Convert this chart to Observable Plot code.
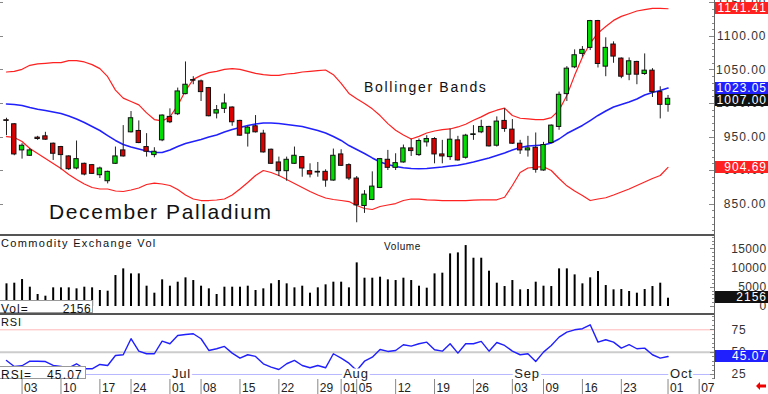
<!DOCTYPE html>
<html><head><meta charset="utf-8">
<script src="https://cdn.jsdelivr.net/npm/d3@7"></script>
<script src="https://cdn.jsdelivr.net/npm/@observablehq/plot@0.6"></script>
<style>
html,body{margin:0;padding:0;background:#fff;}
#wrap{position:relative;width:768px;height:394px;overflow:hidden;background:#fff;font-family:"Liberation Sans",Arial,sans-serif;color:#111;}
#wrap svg{position:absolute;left:0;overflow:visible;}
.lbl{position:absolute;white-space:nowrap;line-height:1;}
.vbox{position:absolute;left:715px;width:53px;color:#fff;font-size:12px;letter-spacing:1px;text-align:right;line-height:12px;height:12px;box-sizing:border-box;padding-right:1px;}
.ibox{position:absolute;left:0;background:#fff;border:1px solid #999;border-left:none;box-sizing:border-box;font-size:12px;line-height:1;}
.ibox span{position:absolute;top:2px;}
.sep{position:absolute;left:0;width:715px;height:2px;background:#555;}
</style></head>
<body><div id="wrap"></div>
<script>
// ---- data (trading days, index 0 = May 30) ----
const opens  = [975,969,930,922,949,951,940,935,921,903,910,908,893,884,910,930,957,959,935,923,945,980,984,1014,1035,1033,1023,985,992,994,974,955,966,955,931,912,899,910,920,899,897,898,885,924,908,888,847,856,874,916,904,912,933,923,942,947,924,920,945,919,953,957,965,937,974,961,940,930,934,900,941,965,1014,1054,1074,1083,1123,1055,1088,1067,1043,1062,1044,1049,1017,998];
const highs  = [978,970,940,933,951,957,941,936,922,944,911,909,905,899,935,967,988,974,955,934,983,992,1023,1062,1040,1035,1024,997,1014,995,975,966,982,960,932,920,920,935,921,910,912,901,932,931,910,891,870,898,918,930,925,938,947,947,952,949,945,962,951,954,967,975,966,980,992,976,945,951,956,942,968,1017,1055,1080,1085,1124,1124,1098,1092,1068,1068,1063,1074,1052,1025,1012];
const lows   = [952,922,917,921,945,945,915,901,900,901,892,894,888,880,909,920,956,940,920,919,943,970,982,1013,1028,1003,980,977,985,966,951,935,956,926,909,891,884,909,890,889,890,875,884,906,885,822,836,855,873,900,900,911,921,921,935,910,910,915,914,917,945,955,935,935,957,939,924,920,896,899,940,960,1003,1052,1069,1079,1053,1040,1060,1037,1034,1028,1042,1009,977,987];
const closes = [974,924,937,930,947,946,925,923,902,917,894,895,903,898,921,921,978,941,928,928,982,972,1018,1028,1034,1017,981,990,1000,972,952,964,957,927,910,899,916,922,903,894,898,885,922,907,888,848,864,876,917,904,911,933,929,944,947,924,921,946,915,952,954,965,936,973,962,940,930,933,901,938,967,1013,1052,1072,1080,1123,1059,1083,1070,1040,1063,1043,1049,1017,998,1007];
const upperBand  = [1047,1048,1051,1057,1059,1060,1061,1061,1064,1064,1062,1058,1052,1040,1020,1008,1003,998,986,976,974,980,997,1019,1036,1042,1046,1048,1051,1052,1051,1048,1045,1043,1042,1042,1044,1045,1047,1048,1049,1050,1043,1030,1015,1007,1000,992,982,970,960,953,947,951,956,959,961,962,965,969,975,980,986,990,993,982,978,977,976,976,979,990,1012,1042,1069,1090,1105,1115,1124,1130,1134,1138,1140,1142,1142,1141.41];
const middleBand = [999.3,998.5,997,994,991.5,989.6,987.3,985.1,981.3,976.9,971.6,965.7,959.7,952.2,944.8,938.8,935.1,932.2,929.1,926.9,926.9,930.6,935.8,940.3,943.3,946.3,950,953,957.5,961.2,964.2,967.2,969.4,970.9,970.9,970.1,968.7,967.2,965.7,962.7,959.7,956,950.7,944.8,937.3,931.3,925.4,918.7,912.7,909,906,904,903,902.5,903,904,905.2,906.7,907.9,910,912.7,915.7,918.7,922.4,926.1,930.6,934.3,936.6,937.3,938.1,941,947,955.2,961.2,967.2,974.6,982.1,988.8,994.8,998.5,1002.2,1006.7,1012.7,1016.4,1019.4,1023.05];
const lowerBand  = [950.7,949.3,943.3,932.8,925.4,917.9,910.4,903,894,886.6,879.9,874.6,872.4,872.4,869.4,868.7,870.9,873.9,879.1,881.1,879.9,877.6,871.6,863.4,857.5,855.2,855.2,856,857.5,863.4,872.4,882.1,892.5,900,897,892.5,886.6,880.6,874.6,868.7,863.4,859,856.7,855.2,853.7,847.8,843.3,841.8,846.3,848.5,850.7,855.2,857.5,857.2,856.3,855.7,855.2,855.2,855.2,855.2,855.7,856.3,856.3,856.3,860.1,877.6,897,903.7,904.9,905.7,900,888.1,877.1,869.4,862.7,855.2,857.5,859.3,863.4,867.9,872.4,877.6,882.8,888.1,892.5,904.69];
const volume = [5890,6060,7010,5020,3120,2680,4850,4850,4850,4590,5020,4850,4160,3980,8050,9780,8480,8480,5280,3460,6930,5280,6320,7450,6750,5280,4590,3120,5020,5020,5020,5280,4160,4590,5890,6750,5890,4850,5280,3460,4850,5630,6320,6320,4850,11340,7360,7360,7620,6930,6750,7360,6750,5280,4760,8480,8660,13680,13940,15840,12550,12550,9180,6060,5190,6750,4330,4410,6320,5280,5190,9780,9780,8220,5890,7450,9090,5450,4330,4410,3900,3460,4410,5190,6060,2156];
const rsi = [40.7,34,34.8,39.9,39.9,39.5,35.1,34,32.5,37,31.4,31.4,36.2,35.1,46.3,47.1,65,51.1,48.2,48.2,62.3,59.4,68.7,69.8,70.6,65,51.9,53.8,56.4,48.9,43.3,47.1,45.2,37,33.2,30.6,37,40.7,35.1,32.5,35.1,32.5,48.2,43.3,37.7,29.5,39.9,44.4,53,50.8,51.9,58.3,56.7,59.4,61.2,52.7,51.1,59.4,48.9,59.4,59.4,62,51.1,60.8,57.5,51.1,47.1,48.2,39.6,50,57.5,66.8,72.4,75,76.2,80.6,61.2,63.9,61.2,54.5,58.3,53.8,54.5,47.1,43.3,45.07];
const dateTickIdx = [2,7,12,16,21,25,30,35,40,43,45,50,55,60,65,69,74,79,85,89];
const dateTickLabels = ["03","10","17","24","01","08","15","22","29","01","05","12","19","26","03","09","16","23","01","07"];
const monthIdx = [21,43,65,85];
const monthLabels = ["Jul","Aug","Sep","Oct"];
const priceTicks = [850,900,950,1000,1050,1100,1150];
const volTicks = [0,5000,10000,15000];
const rsiTicks = [25,50,75];
const lastValues = {upper:1141.41, middle:1023.05, close:1007.00, lower:904.69, vol:2156, rsi:45.07};

// ---- build ----
const FONT = '"Liberation Sans", Arial, sans-serif';
const wrap = document.getElementById("wrap");
const X = {domain:[-0.77, 91.1], axis:null};
const common = {width:768, marginLeft:0, marginRight:53, marginTop:0, marginBottom:0,
  style:{background:"transparent", fontFamily:FONT, overflow:"visible"}};

const candles = opens.map((o,i)=>({i, o, h:highs[i], l:lows[i], c:closes[i]}));
const upC = candles.filter(d=>d.c>=d.o), dnC = candles.filter(d=>d.c<d.o);
const bands = upperBand.map((u,i)=>({i, u, m:middleBand[i], lo:lowerBand[i]}));
const bw = 0.28;

const main = Plot.plot({...common, height:234, x:X, y:{domain:[804.5,1153.7], axis:null},
  marks:[
    Plot.line(bands,{x:"i", y:"u", stroke:"#ff2020", strokeWidth:1.2}),
    Plot.line(bands,{x:"i", y:"lo", stroke:"#ff2020", strokeWidth:1.2}),
    Plot.line(bands,{x:"i", y:"m", stroke:"#2020ff", strokeWidth:1.5}),
    Plot.ruleX(candles,{x:"i", y1:"l", y2:"h", stroke:"#222", strokeWidth:1}),
    Plot.rect(upC,{x1:d=>d.i-bw, x2:d=>d.i+bw, y1:"o", y2:"c", fill:"#00dd00", stroke:"#111", strokeWidth:1}),
    Plot.rect(dnC,{x1:d=>d.i-bw, x2:d=>d.i+bw, y1:"o", y2:"c", fill:"#dd0000", stroke:"#111", strokeWidth:1}),
    Plot.text(priceTicks,{y:d=>d, text:d=>d.toFixed(2), frameAnchor:"right", textAnchor:"end", dx:51, fill:"#333", fontSize:12})
  ]});
main.style.top = "0px";
wrap.appendChild(main);
d3.select(main).selectAll("text").attr("letter-spacing","1px");
{
  const ys = main.scale("y");
  const g = d3.select(main).append("g").attr("stroke","#888").attr("stroke-width",1);
  d3.range(810,1151,10).forEach(v=>{
    const y = Math.round(ys.apply(v))+0.5;
    g.append("line").attr("x1", v%50===0?709:712).attr("x2",715).attr("y1",y).attr("y2",y);
  });
  priceTicks.forEach(v=>{
    const y = Math.round(ys.apply(v))+0.5;
    g.append("line").attr("x1",0).attr("x2",3).attr("y1",y).attr("y2",y);
  });
}

const volData = volume.map((v,i)=>({i, v}));
const vol = Plot.plot({...common, height:77, marginBottom:7, x:X, y:{domain:[0,18196], axis:null},
  marks:[
    Plot.ruleX(volData,{x:"i", y1:0, y2:"v", stroke:"#000", strokeWidth:2}),
    Plot.text(volTicks,{y:d=>d, text:d=>String(d), frameAnchor:"right", textAnchor:"end", dx:51, fill:"#333", fontSize:12})
  ]});
vol.style.top = "236px";
wrap.appendChild(vol);
d3.select(vol).selectAll("text").attr("letter-spacing","0.4px");
{
  const ys = vol.scale("y");
  const g = d3.select(vol).append("g").attr("stroke","#888");
  d3.range(0,18001,1000).forEach(v=>{
    const y = Math.round(ys.apply(v))+0.5;
    g.append("line").attr("x1", v%5000===0?710:712).attr("x2",715).attr("y1",y).attr("y2",y);
  });
}

const rsiData = rsi.map((r,i)=>({i, r}));
const months = monthIdx.map((i,k)=>({i, label:monthLabels[k]}));
const rsiPlot = Plot.plot({...common, height:64, x:X, y:{domain:[19.4,91], axis:null},
  marks:[
    Plot.ruleY([75],{stroke:"#ffb8b8", strokeWidth:1}),
    Plot.ruleY([50],{stroke:"#cccccc", strokeWidth:2}),
    Plot.ruleY([25],{stroke:"#b8b8ff", strokeWidth:1}),
    Plot.line(rsiData,{x:"i", y:"r", stroke:"#1f1fff", strokeWidth:1.4}),
    Plot.text(months,{x:"i", y:25, text:"label", textAnchor:"start", dx:2, dy:-1, fill:"#222", stroke:"#fff", strokeWidth:5, paintOrder:"stroke", fontSize:13}),
    Plot.text(rsiTicks,{y:d=>d, text:d=>String(d), frameAnchor:"right", textAnchor:"start", dx:16, fill:"#333", fontSize:12})
  ]});
rsiPlot.style.top = "315px";
wrap.appendChild(rsiPlot);
d3.select(rsiPlot).selectAll("text").attr("letter-spacing","0.8px");
{
  const ys = rsiPlot.scale("y");
  const g = d3.select(rsiPlot).append("g").attr("stroke","#888");
  d3.range(20,91,5).forEach(v=>{
    const y = Math.round(ys.apply(v))+0.5;
    g.append("line").attr("x1", v%25===0?710:712).attr("x2",715).attr("y1",y).attr("y2",y);
  });
}

const dates = dateTickIdx.map((i,k)=>({i, label:dateTickLabels[k]}));
const dateRow = Plot.plot({...common, height:15, x:X,
  marks:[
    Plot.ruleX(dates,{x:"i", stroke:"#888"}),
    Plot.text(dates,{x:"i", text:"label", textAnchor:"start", dx:2, dy:1, fill:"#222", fontSize:12})
  ]});
dateRow.style.top = "379px";
wrap.appendChild(dateRow);

// separators and axis line
function div(cls, css, text){ const d=document.createElement("div"); d.className=cls; Object.assign(d.style, css); if(text!==undefined) d.textContent=text; wrap.appendChild(d); return d; }
div("sep",{top:"234px"});
div("sep",{top:"313px"});
div("",{position:"absolute", left:"714px", top:"0px", width:"1px", height:"379px", background:"#666"});

// value boxes on the right axis
function vbox(y, text, bg){ div("vbox",{top:(y-6)+"px", background:bg}, text); }
{
  const ys = main.scale("y");
  let yU = Math.max(ys.apply(lastValues.upper), 8);
  const yM = ys.apply(lastValues.middle);
  let yC = ys.apply(lastValues.close);
  if (yC < yM + 12) yC = yM + 12;
  vbox(yU, lastValues.upper.toFixed(2), "#ff2020");
  vbox(yM, lastValues.middle.toFixed(2), "#2020ff");
  vbox(yC, lastValues.close.toFixed(2), "#111");
  vbox(ys.apply(lastValues.lower), lastValues.lower.toFixed(2), "#ff2020");
  vbox(236 + vol.scale("y").apply(lastValues.vol) - 1, String(lastValues.vol), "#111");
  vbox(315 + rsiPlot.scale("y").apply(lastValues.rsi), lastValues.rsi.toFixed(2), "#2020ff");
}

// text labels
div("lbl",{left:"49px", top:"200.5px", fontSize:"21px", letterSpacing:"1.6px"}, "December Palladium");
div("lbl",{left:"364px", top:"80px", fontSize:"14px", letterSpacing:"1.7px"}, "Bollinger Bands");
div("lbl",{left:"1px", top:"237.5px", fontSize:"11px", letterSpacing:"1.35px"}, "Commodity Exchange Vol");
div("lbl",{left:"384px", top:"241.5px", fontSize:"10px", letterSpacing:"0.6px"}, "Volume");
div("lbl",{left:"1px", top:"316.7px", fontSize:"11px", letterSpacing:"0.8px"}, "RSI");

const vb = div("ibox",{top:"300px", width:"93px", height:"13px"});
vb.innerHTML = '<span style="left:1px;letter-spacing:1px">Vol=</span><span style="right:1px;letter-spacing:0.4px">'+lastValues.vol+'</span>';
const rb = div("ibox",{top:"366px", width:"86px", height:"13px"});
rb.innerHTML = '<span style="left:1px;letter-spacing:1px">RSI=</span><span style="right:2px;letter-spacing:1.2px">'+lastValues.rsi.toFixed(2)+'</span>';

// red arrow bottom right
const arr = document.createElementNS("http://www.w3.org/2000/svg","svg");
arr.setAttribute("width","10"); arr.setAttribute("height","8");
arr.style.left="756px"; arr.style.top="382px";
arr.innerHTML = '<path d="M0,4 L4,0 L4,2.5 L10,2.5 L10,5.5 L4,5.5 L4,8 Z" fill="#ee0000"/>';
wrap.appendChild(arr);
</script>
</body></html>
